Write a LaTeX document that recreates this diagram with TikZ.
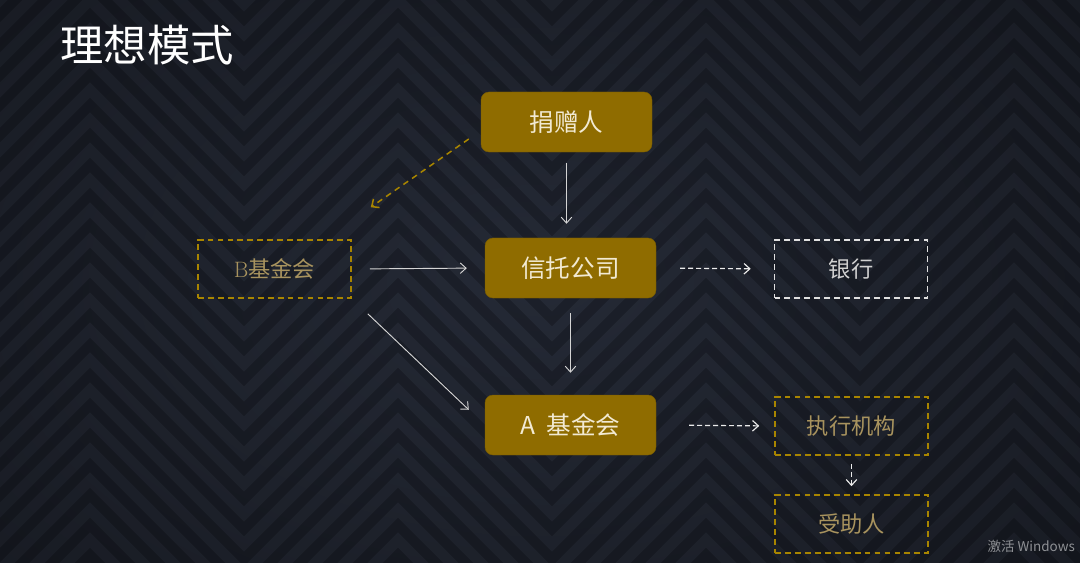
\documentclass[tikz,border=0pt]{standalone}
\usepackage{fontspec}
\newfontfamily\cjk{Noto Sans CJK SC}
\usetikzlibrary{arrows.meta,fadings}
\definecolor{bgdark}{HTML}{1C202A}
\definecolor{bgstripe}{HTML}{252A36}
\definecolor{gold}{HTML}{8F6C00}
\definecolor{golddash}{HTML}{A88500}
\definecolor{goldtext}{HTML}{A8935E}
\definecolor{cream}{HTML}{F2EAD3}
\definecolor{arrowgray}{HTML}{D4D4D4}
\tikzfading[name=vignette, inner color=transparent!100, outer color=transparent!0]
\begin{document}
\begin{tikzpicture}[x=0.03cm, y=-0.03cm,
   every node/.style={font=\cjk},
   goldbox/.style={fill=gold, draw=gold!85!black, rounded corners=0.24cm,
     minimum width=5.13cm, minimum height=1.8cm, text=cream,
     font=\cjk\fontsize{21}{21}\selectfont},
   dashbox/.style={draw=golddash, dash pattern=on 5pt off 3.5pt, line width=1.3pt,
     minimum width=4.59cm, minimum height=1.74cm, text=goldtext,
     font=\cjk\fontsize{19}{19}\selectfont},
   flow/.style={draw=arrowgray, line width=0.8pt, -{Straight Barb[length=5pt,width=9pt]}},
   dflow/.style={flow, draw=white!92!black, line width=1pt, dash pattern=on 4.2pt off 2.6pt}]
\useasboundingbox (0,0) rectangle (1080,563);
% background with chevrons
\fill[bgdark] (0,0) rectangle (1080,563);
\begin{scope}
\clip (0,0) rectangle (1080,563);
\foreach \k in {-7,...,20}
  \draw[bgstripe, line width=0.32cm, line join=miter]
    (-218,{30*\k}) \foreach \i in {1,...,10} { -- ({-218+154*\i},{30*\k+154*mod(\i,2)}) };
\fill[black, opacity=0.4, path fading=vignette] (-300,-250) rectangle (1380,813);
\end{scope}
\node[text=white, font=\cjk\fontsize{37}{37}\selectfont] (title) at (147,45) {理想模式};
% boxes
\node[goldbox] (donor) at (566.5,122) {捐赠人};
\node[goldbox] (trust) at (570.5,268) {信托公司};
\node[goldbox] (fundA) at (570.5,425) {A\hspace{0.45em}基金会};
\node[dashbox] (fundB) at (274.5,269) {{\rmfamily B}基金会};
\node[dashbox, draw=white!88!black, text=white!82!black] (bank) at (851,269) {银行};
\node[dashbox] (agency) at (851.5,426) {执行机构};
\node[dashbox] (benef) at (851.5,524) {受助人};
% connectors
\draw[flow, shorten <=0.33cm, shorten >=0.42cm] (donor.south) -- (donor.south |- trust.north);
\draw[flow, shorten <=0.45cm, shorten >=0.66cm] (trust.south) -- (fundA.north);
\draw[flow, shorten <=0.54cm, shorten >=0.54cm] (fundB.east) -- (trust.west);
\draw[flow] ([shift={(16,15)}]fundB.south east) -- ([shift={(-16,15)}]fundA.north west);
\draw[dflow, shorten <=0.72cm, shorten >=0.69cm] (trust.east) -- (bank.west);
\draw[dflow, shorten <=0.99cm, shorten >=0.45cm] (fundA.east) -- (agency.west);
\draw[dflow, shorten <=0.24cm, shorten >=0.24cm] (agency.south) -- (benef.north);
\draw[flow, draw=golddash, line width=1.3pt, dash pattern=on 5pt off 4pt]
  ([shift={(-12,17)}]donor.west) -- ([shift={(19,-32)}]fundB.north east);
\node[anchor=east, text=white!50!bgdark, font=\cjk\fontsize{11.5}{11.5}\selectfont] (mark) at (1079,546) {激活 Windows};
\end{tikzpicture}
\end{document}
